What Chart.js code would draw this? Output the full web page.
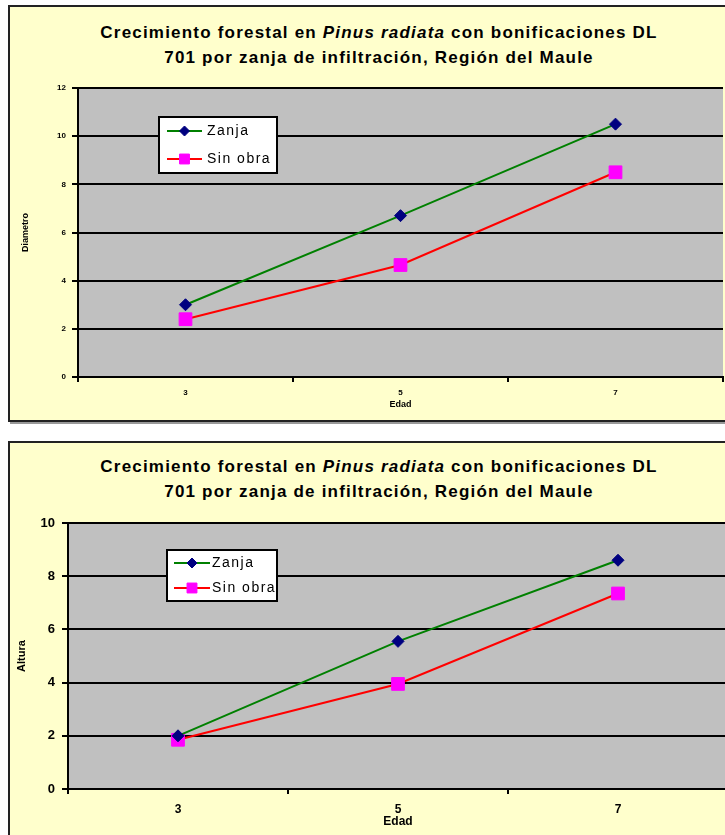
<!DOCTYPE html>
<html>
<head>
<meta charset="utf-8">
<script src="https://cdn.jsdelivr.net/npm/chart.js@4"></script>
<style>
  html, body { margin: 0; padding: 0; background: #fff; width: 725px; height: 835px; overflow: hidden; position: relative; }
  .box { position: absolute; left: 8px; width: 742px; background: #FFFFCC; border: 2px solid #222; box-shadow: 2px 2px 0 #999; box-sizing: border-box; }
  .ttl { position: absolute; left: 8px; width: 742px; text-align: center; font: bold 17px "Liberation Sans", Arial, sans-serif; letter-spacing: 1.2px; line-height: 25px; color: #000; }
  canvas { position: absolute; left: 8px; }
</style>
</head>
<body>
<div class="box" style="top:5px;height:417px"></div>
<div class="ttl" style="top:20px">Crecimiento forestal en <i>Pinus radiata</i> con bonificaciones DL<br>701 por zanja de infiltración, Región del Maule</div>
<canvas id="ch-diam" width="750" height="417" style="top:5px"></canvas>

<div class="box" style="top:441px;height:410px"></div>
<div class="ttl" style="top:454px">Crecimiento forestal en <i>Pinus radiata</i> con bonificaciones DL<br>701 por zanja de infiltración, Región del Maule</div>
<canvas id="ch-alt" width="750" height="400" style="top:441px"></canvas>

<script>
// ---- data ----
const edad = ['3', '5', '7'];
const seriesNames = ['Zanja', 'Sin obra'];
const diamZanja   = [3.0, 6.7, 10.5];
const diamSinObra = [2.4, 4.65, 8.5];
const altZanja    = [2.0, 5.55, 8.6];
const altSinObra  = [1.85, 3.95, 7.35];
const diamTicks = [0, 2, 4, 6, 8, 10, 12];
const altTicks  = [0, 2, 4, 6, 8, 10];

const FONT = '"Liberation Sans", Arial, sans-serif';

// gray plot area
const plotBg = {
  id: 'plotBg',
  beforeDraw(chart) {
    const { ctx, chartArea: a } = chart;
    ctx.save();
    ctx.fillStyle = '#C0C0C0';
    ctx.fillRect(a.left, a.top, a.right - a.left, a.bottom - a.top);
    ctx.restore();
  }
};

// Excel-like legend box floating inside the plot
const boxLegend = {
  id: 'boxLegend',
  afterDraw(chart, args, o) {
    const ctx = chart.ctx;
    ctx.save();
    ctx.fillStyle = '#fff';
    ctx.fillRect(o.x, o.y, o.w, o.h);
    ctx.strokeStyle = '#000';
    ctx.lineWidth = 2;
    ctx.strokeRect(o.x, o.y, o.w, o.h);
    chart.data.datasets.forEach((ds, i) => {
      const y = o.y + o.rows[i];
      const mx = o.x + (o.lineFrom + o.lineTo) / 2;
      ctx.strokeStyle = ds.borderColor;
      ctx.lineWidth = 2;
      ctx.beginPath();
      ctx.moveTo(o.x + o.lineFrom, y);
      ctx.lineTo(o.x + o.lineTo, y);
      ctx.stroke();
      ctx.fillStyle = ds.pointBackgroundColor;
      ctx.strokeStyle = ds.pointBorderColor;
      ctx.lineWidth = 1;
      Chart.helpers.drawPoint(ctx, {
        pointStyle: ds.pointStyle, radius: ds.legendRadius, rotation: 0, borderWidth: 1
      }, mx, y);
      ctx.fillStyle = '#000';
      ctx.font = o.font;
      ctx.letterSpacing = '1.5px';
      ctx.textBaseline = 'middle';
      ctx.fillText(ds.label, o.x + o.textX, y);
    });
    ctx.restore();
  }
};

function makeChart(id, zanja, sinObra, ticks, yLabel, sz) {
  return new Chart(document.getElementById(id), {
    type: 'line',
    data: {
      labels: edad,
      datasets: [
        { label: seriesNames[0], data: zanja, borderColor: '#008000', borderWidth: 2,
          pointStyle: 'rectRot', pointRadius: sz.diamond, legendRadius: sz.legDiamond,
          pointBackgroundColor: '#000080', pointBorderColor: '#000080', pointBorderWidth: 1 },
        { label: seriesNames[1], data: sinObra, borderColor: '#FF0000', borderWidth: 2,
          pointStyle: 'rect', pointRadius: sz.square, legendRadius: sz.legSquare,
          pointBackgroundColor: '#FF00FF', pointBorderColor: '#FF00FF', pointBorderWidth: 1 }
      ]
    },
    options: {
      responsive: false,
      animation: false,
      layout: { padding: { left: 0, top: sz.top, right: sz.right, bottom: 0 } },
      plugins: {
        legend: { display: false },
        tooltip: { enabled: false },
        boxLegend: sz.legend
      },
      scales: {
        x: {
          type: 'category',
          offset: true,
          afterFit: s => { s.height = sz.xH; },
          grid: { offset: true, drawOnChartArea: false, color: '#000', lineWidth: 2, tickLength: 5 },
          border: { color: '#000', width: 2 },
          ticks: { color: '#000', padding: sz.xPad, maxRotation: 0, font: { family: FONT, size: sz.xTick, weight: 'bold' } },
          title: { display: true, text: 'Edad', color: '#000', padding: { top: 0, bottom: sz.xTitlePad },
                   font: { family: FONT, size: sz.xTitle, weight: 'bold' } }
        },
        y: {
          min: ticks[0],
          max: ticks[ticks.length - 1],
          afterFit: s => { s.width = sz.yW; },
          afterBuildTicks: s => { s.ticks = ticks.map(v => ({ value: v })); },
          grid: { color: '#000', lineWidth: 2, tickLength: 6 },
          border: { color: '#000', width: 2 },
          ticks: { color: '#000', padding: sz.yPad, font: { family: FONT, size: sz.yTick, weight: 'bold' } },
          title: { display: true, text: yLabel, color: '#000', padding: { top: sz.yTitlePad, bottom: 0 },
                   font: { family: FONT, size: sz.yTitle, weight: 'bold' } }
        }
      }
    },
    plugins: [plotBg, boxLegend]
  });
}

makeChart('ch-diam', diamZanja, diamSinObra, diamTicks, 'Diametro', {
  top: 83, right: 35, xH: 45, yW: 70, xPad: 6, yPad: 6,
  xTick: 8, yTick: 8, xTitle: 9, yTitle: 9, xTitlePad: 12, yTitlePad: 12,
  diamond: 6, square: 9, legDiamond: 5, legSquare: 7,
  legend: { x: 151, y: 112, w: 118, h: 56, rows: [14, 42], lineFrom: 8, lineTo: 43, textX: 48,
            font: '14px ' + FONT }
});

makeChart('ch-alt', altZanja, altSinObra, altTicks, 'Altura', {
  top: 82, right: 30, xH: 52, yW: 60, xPad: 8, yPad: 7,
  xTick: 12, yTick: 13, xTitle: 12, yTitle: 11, xTitlePad: 12, yTitlePad: 7,
  diamond: 6, square: 9, legDiamond: 5, legSquare: 7,
  legend: { x: 159, y: 109, w: 110, h: 51, rows: [13, 38], lineFrom: 7, lineTo: 43, textX: 45,
            font: '14px ' + FONT }
});
</script>
</body>
</html>
